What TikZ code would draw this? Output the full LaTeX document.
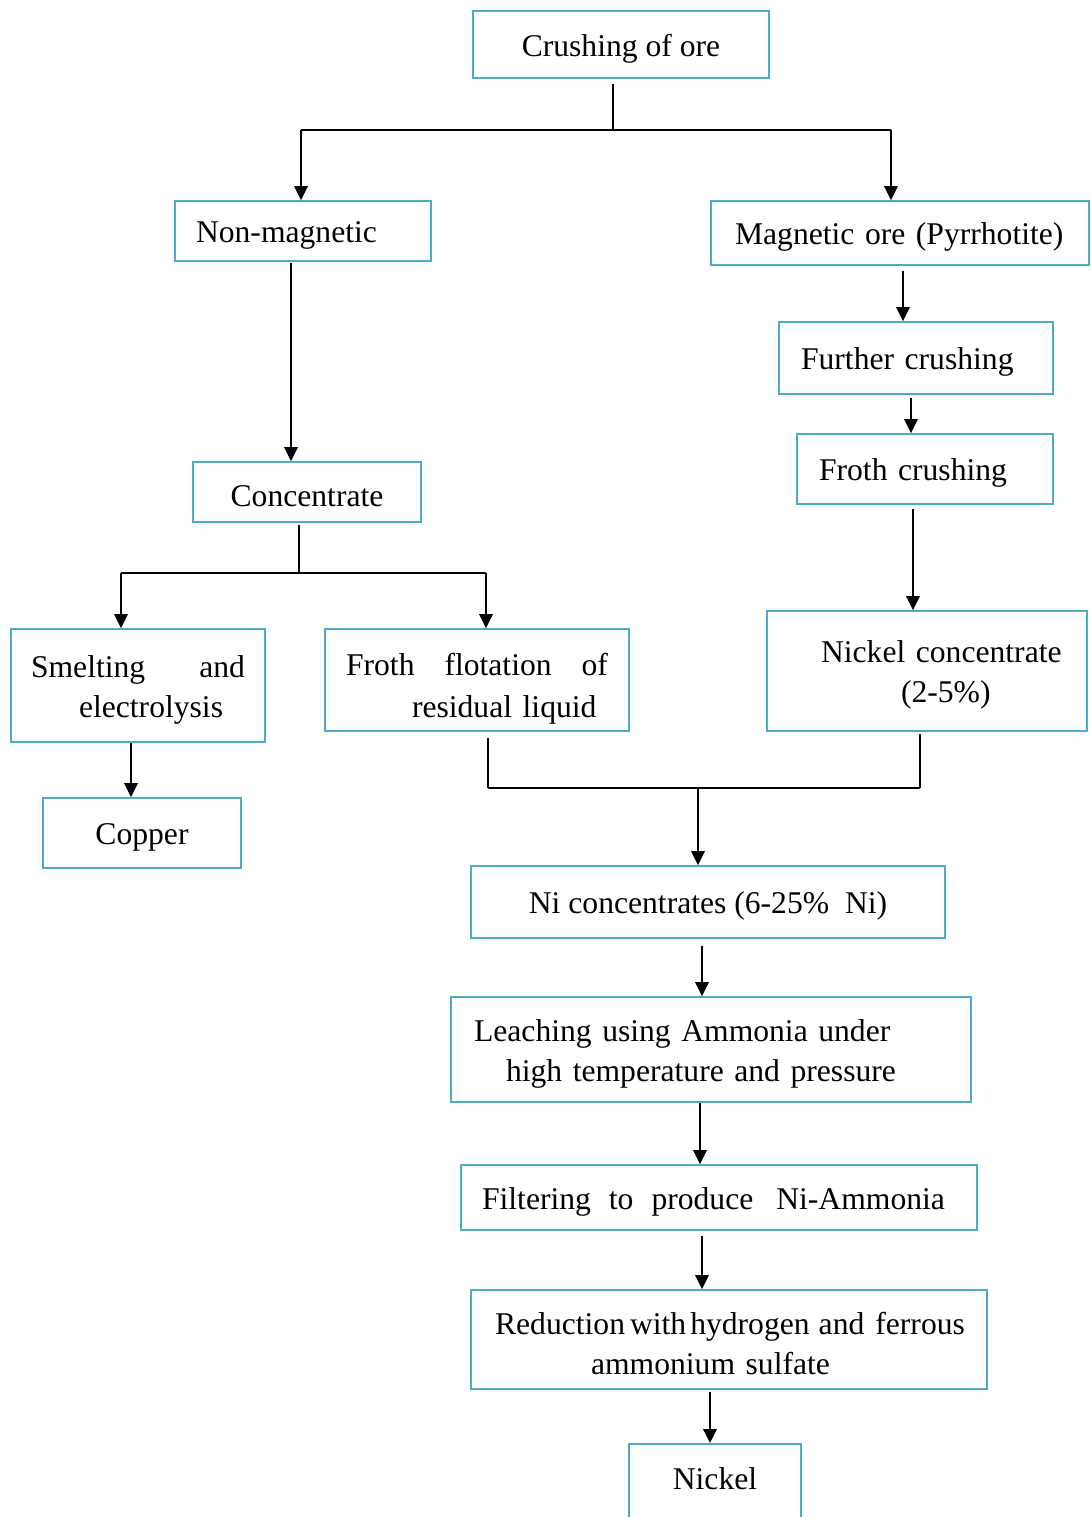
\documentclass[tikz,border=0pt]{standalone}
\usepackage{fontspec}
\setmainfont{Liberation Serif}
\usetikzlibrary{arrows.meta}
\definecolor{boxblue}{RGB}{75,172,198}
\tikzset{
  box/.style={draw=boxblue, line width=1pt, inner sep=0pt, align=left,
    font=\fontsize{18}{22.8}\selectfont,
    execute at begin node=\rule{0pt}{0.6cm}},
  link/.style={line width=1.1pt},
  arr/.style={link, -{Triangle[length=0.28cm,width=0.27cm]}}
}

\begin{document}
\begin{tikzpicture}[x=0.02cm,y=-0.02cm]
  \useasboundingbox (0,0) rectangle (1090,1517);
  % left branch
  \node[box,minimum width=5.92cm,minimum height=1.34cm] (crush) at (621,44.5) {Crushing of ore};
  \node[box,minimum width=5.12cm,minimum height=1.2cm,text width=4.28cm] (nonmag) at (303,231) {Non-magnetic};
  \node[box,minimum width=4.56cm,minimum height=1.2cm] (conc) at (307,492) {Concentrate};
  \node[box,minimum width=5.08cm,minimum height=2.26cm,text width=4.28cm] (smelt) at (138,685.5)
        {Smelting\hfill and\\\hspace*{0.96cm}electrolysis};
  \node[box,minimum width=6.08cm,minimum height=2.04cm,text width=5.24cm,
        execute at begin node=\rule{0pt}{0.8cm}] (froth) at (477,680)
        {Froth\hfill flotation\hfill of\\[0.04cm]\hspace*{1.32cm}residual liquid};
  \node[box,minimum width=3.96cm,minimum height=1.4cm] (copper) at (142,833) {Copper};
  % right branch
  \node[box,minimum width=7.56cm,minimum height=1.28cm,text width=6.6cm] (mag) at (900,233) {Magnetic ore (Pyrrhotite)};
  \node[box,minimum width=5.48cm,minimum height=1.44cm,text width=4.6cm] (further) at (916,358) {Further crushing};
  \node[box,minimum width=5.12cm,minimum height=1.4cm,text width=4.24cm] (frothc) at (925,469) {Froth crushing};
  \node[box,minimum width=6.4cm,minimum height=2.4cm,text width=5.6cm] (nickconc) at (927,671)
        {\hspace*{0.68cm}Nickel concentrate\\\hspace*{2.28cm}(2-5\%)};
  % main line
  \node[box,minimum width=9.48cm,minimum height=1.44cm] (niconc) at (708,902) {Ni concentrates (6-25\%\ \ Ni)};
  \node[box,minimum width=10.4cm,minimum height=2.1cm,text width=9.48cm] (leach) at (711,1049.5)
        {Leaching using Ammonia under\\\hspace*{0.64cm}high temperature and pressure};
  \node[box,minimum width=10.32cm,minimum height=1.3cm,text width=9.48cm] (filter) at (719,1197.5)
        {\hbox to 9.26cm{Filtering\hfil to\hfil produce\hfil\hskip 0.1cm Ni-Ammonia}};
  \node[box,minimum width=10.32cm,minimum height=1.98cm,text width=9.8cm] (reduct) at (729,1339.5)
        {\hspace*{0.22cm}\hbox{Reduction\hskip0.1cm with\hskip0.08cm hydrogen\hskip0.18cm and\hskip0.22cm ferrous}\\\hspace*{2.14cm}ammonium sulfate};
  \node[box,anchor=north,minimum width=3.44cm,minimum height=1.6cm,text depth=0.36cm] (nickel) at (715,1443) {Nickel};

  % first split
  \coordinate (c1) at (613,130);
  \coordinate (c1l) at (301,130);
  \coordinate (c1r) at (891,130);
  \draw[link,shorten <=0.1cm] (crush.south -| c1) -- (c1);
  \draw[link] (c1l) -- (c1r);
  \draw[arr] (c1l) -- (c1l |- nonmag.north);
  \draw[arr] (c1r) -- (c1r |- mag.north);
  \draw[arr,shorten <=0.02cm] ([xshift=-0.24cm]nonmag.south) -- ([xshift=-0.24cm]nonmag.south |- conc.north);

  % magnetic side
  \draw[arr,shorten <=0.1cm] ([xshift=0.06cm]mag.south) -- ([xshift=0.06cm]mag.south |- further.north);
  \draw[arr,shorten <=0.06cm] ([xshift=-0.1cm]further.south) -- ([xshift=-0.1cm]further.south |- frothc.north);
  \draw[arr,shorten <=0.08cm] ([xshift=-0.24cm]frothc.south) -- ([xshift=-0.24cm]frothc.south |- nickconc.north);

  % second split
  \coordinate (c2) at (299,573);
  \coordinate (c2l) at (121,573);
  \coordinate (c2r) at (486,573);
  \draw[link,shorten <=0.04cm] (conc.south -| c2) -- (c2);
  \draw[link] (c2l) -- (c2r);
  \draw[arr] (c2l) -- (c2l |- smelt.north);
  \draw[arr] (c2r) -- (c2r |- froth.north);
  \draw[arr] ([xshift=-0.14cm]smelt.south) -- ([xshift=-0.14cm]smelt.south |- copper.north);

  % join
  \coordinate (c3) at (698,788);
  \coordinate (c3l) at (488,788);
  \coordinate (c3r) at (920,788);
  \draw[link,shorten <=0.12cm] (froth.south -| c3l) -- (c3l);
  \draw[link,shorten <=0.04cm] (nickconc.south -| c3r) -- (c3r);
  \draw[link] (c3l) -- (c3r);
  \draw[arr] (c3) -- (c3 |- niconc.north);

  % down to nickel
  \draw[arr,shorten <=0.14cm] ([xshift=-0.12cm]niconc.south) -- ([xshift=-0.12cm]niconc.south |- leach.north);
  \draw[arr] ([xshift=-0.22cm]leach.south) -- ([xshift=-0.22cm]leach.south |- filter.north);
  \draw[arr,shorten <=0.1cm] ([xshift=-0.34cm]filter.south) -- ([xshift=-0.34cm]filter.south |- reduct.north);
  \draw[arr,shorten <=0.04cm] ([xshift=-0.38cm]reduct.south) -- ([xshift=-0.38cm]reduct.south |- nickel.north);
\end{tikzpicture}
\end{document}
